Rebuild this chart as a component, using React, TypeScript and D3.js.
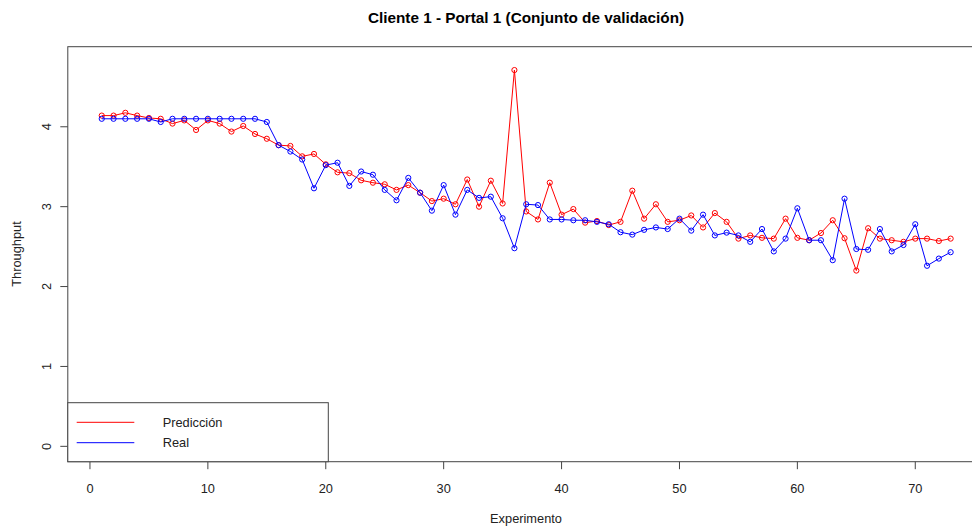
import React from "react";
import * as d3 from "d3";

const experiments: number[] = Array.from({ length: 73 }, (_, i) => i + 1);

const prediccion: number[] = [
  4.14, 4.14, 4.175, 4.14, 4.11, 4.10, 4.04, 4.08, 3.96, 4.08,
  4.04, 3.94, 4.01, 3.91, 3.85, 3.77, 3.76, 3.63, 3.66, 3.53,
  3.43, 3.42, 3.33, 3.30, 3.28, 3.21, 3.27, 3.175, 3.07, 3.10,
  3.03, 3.34, 3.00, 3.325, 3.04, 4.71, 2.94, 2.84, 3.30, 2.90,
  2.97, 2.80, 2.82, 2.77, 2.81, 3.20, 2.85, 3.03, 2.81, 2.83,
  2.89, 2.74, 2.92, 2.81, 2.60, 2.64, 2.61, 2.60, 2.85, 2.61,
  2.58, 2.67, 2.83, 2.605, 2.20, 2.73, 2.60, 2.58, 2.56, 2.60,
  2.60, 2.57, 2.60,
];

const real: number[] = [
  4.10, 4.10, 4.10, 4.10, 4.10, 4.06, 4.10, 4.10, 4.10, 4.10,
  4.10, 4.10, 4.10, 4.10, 4.06, 3.77, 3.69, 3.59, 3.23, 3.52,
  3.55, 3.26, 3.44, 3.40, 3.21, 3.08, 3.36, 3.175, 2.95, 3.27,
  2.90, 3.21, 3.11, 3.125, 2.855, 2.48, 3.03, 3.02, 2.84, 2.84,
  2.83, 2.83, 2.81, 2.78, 2.68, 2.65, 2.71, 2.74, 2.72, 2.85,
  2.70, 2.90, 2.64, 2.675, 2.64, 2.56, 2.72, 2.44, 2.60, 2.98,
  2.58, 2.58, 2.33, 3.10, 2.47, 2.46, 2.72, 2.44, 2.52, 2.78,
  2.26, 2.35, 2.43,
];

const xTicks: number[] = [0, 10, 20, 30, 40, 50, 60, 70];
const yTicks: number[] = [0, 1, 2, 3, 4];

const title = "Cliente 1 - Portal 1 (Conjunto de validación)";
const xLabel = "Experimento";
const yLabel = "Throughput";
const seriesNames = ["Predicción", "Real"];
const seriesColors = ["#FF0000", "#0000FF"];

const W = 972;
const H = 529;
const plotLeft = 67.8;
const plotRight = 984.6;
const plotTop = 46.7;
const plotBottom = 461.7;

export default function App() {
  const x = d3.scaleLinear().domain([-1.88, 75.88]).range([plotLeft, plotRight]);
  const y = d3.scaleLinear().domain([-0.1924, 5.0024]).range([plotBottom, plotTop]);
  const font = "'Liberation Sans', Arial, sans-serif";
  const axisColor = "#444";
  const fs = 12.8;

  const line = d3
    .line<number>()
    .x((_, i) => x(experiments[i]))
    .y((d) => y(d));

  const series = [prediccion, real];

  return (
    <svg
      width={W}
      height={H}
      style={{ position: "absolute", left: 0, top: 0, background: "#fff" }}
      fontFamily={font}
    >
      <rect x={0} y={0} width={W} height={H} fill="#fff" />
      <text x={526} y={22.5} textAnchor="middle" fontSize={15.3} fontWeight="bold" fill="#000">
        {title}
      </text>

      {series.map((s, si) => (
        <g key={si}>
          <path d={line(s) || ""} fill="none" stroke={seriesColors[si]} strokeWidth={1} />
          {s.map((v, i) => (
            <circle
              key={i}
              cx={x(experiments[i])}
              cy={y(v)}
              r={2.6}
              fill="none"
              stroke={seriesColors[si]}
              strokeWidth={1}
            />
          ))}
        </g>
      ))}

      <rect
        x={plotLeft}
        y={plotTop}
        width={plotRight - plotLeft}
        height={plotBottom - plotTop}
        fill="none"
        stroke={axisColor}
        strokeWidth={1}
      />

      {xTicks.map((t) => (
        <g key={"x" + t}>
          <line x1={x(t)} x2={x(t)} y1={plotBottom} y2={plotBottom + 7.5} stroke={axisColor} />
          <text x={x(t)} y={492.5} textAnchor="middle" fontSize={fs} fill="#222">
            {t}
          </text>
        </g>
      ))}
      <text x={526} y={522.5} textAnchor="middle" fontSize={fs} fill="#222">
        {xLabel}
      </text>

      {yTicks.map((t) => (
        <g key={"y" + t}>
          <line x1={plotLeft - 7.5} x2={plotLeft} y1={y(t)} y2={y(t)} stroke={axisColor} />
          <text
            transform={`translate(${51}, ${y(t)}) rotate(-90)`}
            textAnchor="middle"
            fontSize={fs}
            fill="#222"
          >
            {t}
          </text>
        </g>
      ))}
      <text
        transform={`translate(${21}, ${254}) rotate(-90)`}
        textAnchor="middle"
        fontSize={fs}
        fill="#222"
      >
        {yLabel}
      </text>

      <rect
        x={plotLeft}
        y={402.7}
        width={328.3 - plotLeft}
        height={plotBottom - 402.7}
        fill="#fff"
        stroke={axisColor}
        strokeWidth={1}
      />
      {seriesNames.map((name, i) => (
        <g key={name}>
          <line
            x1={76.7}
            x2={134.3}
            y1={422.3 + i * 20.4}
            y2={422.3 + i * 20.4}
            stroke={seriesColors[i]}
            strokeWidth={1}
          />
          <text x={162.7} y={426.9 + i * 20.4} fontSize={fs} fill="#222">
            {name}
          </text>
        </g>
      ))}
    </svg>
  );
}
